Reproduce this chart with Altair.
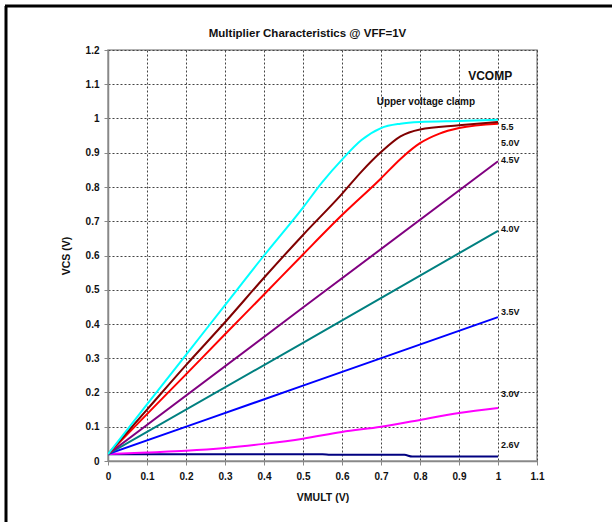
import altair as alt
import pandas as pd

# ---- data ----
series_names = ["2.6V", "3.0V", "3.5V", "4.0V", "4.5V", "5.0V", "5.5V-a", "5.5V"]
series_colors = ["#000080", "#FF00FF", "#0000FF", "#008080", "#800080", "#FF0000", "#800000", "#00FFFF"]

x_26 = [0.0, 0.55, 0.57, 0.76, 0.78, 1.0]
y_26 = [0.020, 0.020, 0.018, 0.018, 0.013, 0.013]

x_30 = [0.0, 0.1, 0.2, 0.3, 0.4, 0.5, 0.6, 0.7, 0.8, 0.9, 1.0]
y_30 = [0.020, 0.025, 0.030, 0.038, 0.050, 0.065, 0.085, 0.100, 0.120, 0.140, 0.155]

x_35 = [0.0, 0.5, 1.0]
y_35 = [0.020, 0.220, 0.420]

x_40 = [0.0, 0.5, 1.0]
y_40 = [0.020, 0.345, 0.672]

x_45 = [0.0, 0.5, 1.0]
y_45 = [0.020, 0.448, 0.875]

x_50 = [0.0, 0.1, 0.2, 0.3, 0.4, 0.5, 0.6, 0.7, 0.75, 0.8, 0.85, 0.9, 1.0]
y_50 = [0.020, 0.137, 0.253, 0.370, 0.486, 0.603, 0.718, 0.825, 0.882, 0.928, 0.956, 0.972, 0.985]

x_55a = [0.0, 0.1, 0.2, 0.3, 0.4, 0.5, 0.6, 0.65, 0.7, 0.75, 0.8, 0.9, 1.0]
y_55a = [0.020, 0.150, 0.280, 0.405, 0.535, 0.660, 0.780, 0.845, 0.902, 0.948, 0.968, 0.980, 0.990]

x_55 = [0.0, 0.1, 0.2, 0.3, 0.4, 0.5, 0.55, 0.6, 0.65, 0.7, 0.75, 0.8, 0.9, 1.0]
y_55 = [0.020, 0.165, 0.310, 0.455, 0.600, 0.740, 0.815, 0.880, 0.937, 0.972, 0.985, 0.990, 0.993, 0.996]

label_texts = ["5.5", "5.0V", "4.5V", "4.0V", "3.5V", "3.0V", "2.6V"]
label_y = [0.975, 0.929, 0.880, 0.678, 0.435, 0.195, 0.047]
label_x = [1.0] * len(label_texts)

x_ticks = [0.0, 0.1, 0.2, 0.3, 0.4, 0.5, 0.6, 0.7, 0.8, 0.9, 1.0, 1.1]
y_ticks = [0.0, 0.1, 0.2, 0.3, 0.4, 0.5, 0.6, 0.7, 0.8, 0.9, 1.0, 1.1, 1.2]

title_text = "Multiplier Characteristics @ VFF=1V"

# ---- build tables ----
all_x = [x_26, x_30, x_35, x_40, x_45, x_50, x_55a, x_55]
all_y = [y_26, y_30, y_35, y_40, y_45, y_50, y_55a, y_55]
rows = []
for name, xs, ys in zip(series_names, all_x, all_y):
    for i, (xv, yv) in enumerate(zip(xs, ys)):
        rows.append({"series": name, "x": xv, "y": yv, "i": i})
df = pd.DataFrame(rows)
labels_df = pd.DataFrame({"label": label_texts, "x": label_x, "y": label_y})
notes_df = pd.DataFrame({"label": ["VCOMP", "Upper voltage clamp"], "x": [0.98, 0.815], "y": [1.124, 1.048], "size": [12, 10]})

FONT = "Liberation Sans"

xscale = alt.Scale(domain=[0, 1.1], nice=False, zero=False)
yscale = alt.Scale(domain=[0, 1.2], nice=False, zero=False)

xaxis = alt.Axis(values=x_ticks, format="~g", title="VMULT (V)", grid=True,
                 gridDash=[2, 2], gridColor="#444444", gridWidth=1, gridOpacity=1,
                 domainColor="#888888", domainWidth=1.5, tickColor="#888888", tickSize=4,
                 labelFont=FONT, labelFontSize=10, labelFontWeight="bold", labelColor="#111111",
                 labelPadding=6, labelOverlap=False, titleFont=FONT, titleFontSize=10.5,
                 titleFontWeight="bold", titleColor="#111111", titlePadding=11, labelFlush=False)
yaxis = alt.Axis(values=y_ticks, format="~g", title="VCS (V)", grid=True,
                 gridDash=[2, 2], gridColor="#444444", gridWidth=1, gridOpacity=1,
                 domainColor="#888888", domainWidth=1.5, tickColor="#888888", tickSize=4,
                 labelFont=FONT, labelFontSize=10, labelFontWeight="bold", labelColor="#111111",
                 labelPadding=5, labelOverlap=False, titleFont=FONT, titleFontSize=10.5,
                 titleFontWeight="bold", titleColor="#111111", titlePadding=14, labelFlush=False)

X = alt.X("x:Q", scale=xscale, axis=xaxis)
Y = alt.Y("y:Q", scale=yscale, axis=yaxis)

lines = alt.Chart(df).mark_line(strokeWidth=2, clip=True, interpolate="monotone").encode(
    x=X, y=Y,
    color=alt.Color("series:N", scale=alt.Scale(domain=series_names, range=series_colors), legend=None),
    order="i:Q",
)

labels = alt.Chart(labels_df).mark_text(align="left", baseline="middle", dx=3, font=FONT,
                                        fontSize=9, fontWeight="bold", color="#111111").encode(
    x=X, y=Y, text="label:N")

notes = alt.Chart(notes_df).mark_text(align="center", baseline="middle", font=FONT,
                                      fontWeight="bold", color="#111111").encode(
    x=X, y=Y, text="label:N",
    size=alt.Size("size:Q", scale=None, legend=None))

title_mark = alt.Chart(pd.DataFrame({"t": [title_text]})).mark_text(
    align="center", baseline="alphabetic", font=FONT, fontSize=11.5, fontWeight="bold",
    color="#111111").encode(x=alt.value(199.5), y=alt.value(-13), text="t:N")

# frame lines of the original picture (left and top black borders)
frame_left = alt.Chart(pd.DataFrame({"k": [0]})).mark_rule(color="black", strokeWidth=3).encode(
    x=alt.value(-102), y=alt.value(-44), y2=alt.value(472))
frame_top = alt.Chart(pd.DataFrame({"k": [0]})).mark_rule(color="black", strokeWidth=3).encode(
    x=alt.value(-103), x2=alt.value(504), y=alt.value(-44))

chart = alt.layer(lines, labels, notes, title_mark, frame_left, frame_top).properties(
    width=429, height=411,
    autosize=alt.AutoSizeParams(type="none"),
    padding={"left": 108, "top": 50, "right": 75, "bottom": 61},
    background="white",
).configure_view(stroke="#999999", strokeWidth=1.5).configure_axis(labelOverlap=False)

chart.save("out.html", embed_options={"renderer": "svg", "actions": False})
